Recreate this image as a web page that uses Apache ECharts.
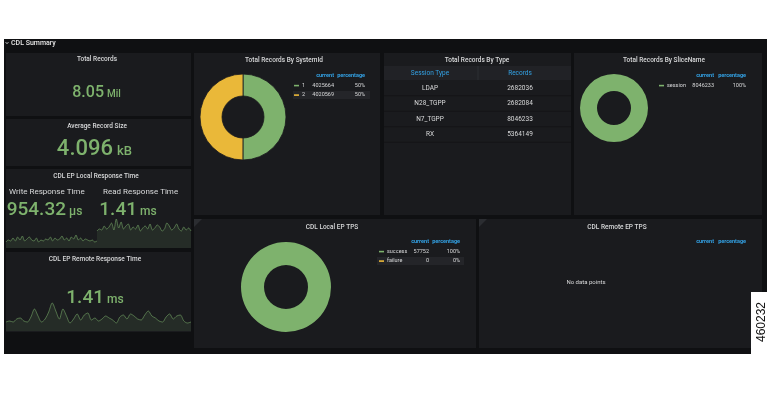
<!DOCTYPE html>
<html><head><meta charset="utf-8">
<script src="https://cdn.jsdelivr.net/npm/echarts@6/dist/echarts.min.js"></script>
<style>html,body{margin:0;padding:0;background:#fff}#c{width:780px;height:397px}</style>
</head><body><div id="c"></div>
<script>
// ---- data ----
const statTotalRecords = ['8.05', 'Mil'];
const statAvgRecordSize = ['4.096', 'kB'];
const statWriteResponse = ['954.32', 'μs'];
const statReadResponse = ['1.41', 'ms'];
const statRemoteResponse = ['1.41', 'ms'];
const systemIds = ['1', '2'];
const systemIdRecords = [4025664, 4020569];
const sessionTypes = ['LDAP', 'N28_TGPP', 'N7_TGPP', 'RX'];
const sessionRecords = [2682036, 2682084, 8046233, 5364149];
const sliceNames = ['session'];
const sliceRecords = [8046233];
const tpsNames = ['success', 'failure'];
const tpsValues = [57752, 0];
const writeSpark = [6,8,7,10,7,11,8,12,7,9,11,8,7,10,6,8,7,9,8,11,7,10,8,9,12,8,10,7,11,9,13,8,10,7,9,8,7,8,6,7];
const readSpark = [17,19,18,22,19,21,25,18,29,20,26,19,22,24,18,21,19,23,17,20,22,19,24,18,20,23,21,17,19,25,22,18,20,24,19,17,21,18,20,17];
const remoteSpark = [9,10,9,12,13,10,9,14,22,15,9,12,19,28,20,12,22,15,8,12,17,11,16,18,11,13,10,12,15,13,11,8,14,16,12,17,15,12,11,16,20,15,13,10,9,14,17,12,15,16,10,8,9];

// ---- styling ----
const GREEN = '#7EB26D', YELLOW = '#EAB839', BLUE = '#33A2E5';
const TXT = '#d8d9da', PANEL = '#1a1b1e', BG = '#0f1012';
const FONT = 'Roboto';
const g = [];
function rect(x, y, w, h, fill, z) { g.push({type:'rect', silent:true, z: z||0, shape:{x, y, width:w, height:h}, style:{fill}}); }
function text(t, x, y, size, fill, align, weight) {
  g.push({type:'text', silent:true, z:5, style:{text:t, x, y, fill, font:(weight||'normal')+' '+size+'px '+FONT, align: align||'center', verticalAlign:'middle'}});
}
function statValue(v, rightX, y, size, usize) {
  text(v[0], rightX, y, size, GREEN, 'right', '500');
  text(v[1], rightX + Math.round(size*0.18), y + (size - usize)*0.35, usize, GREEN, 'left', '500');
}
function pct(vals, i) { const s = vals.reduce((a,b)=>a+b,0); return s ? Math.round(vals[i]/s*100)+'%' : '0%'; }
function legend(names, vals, colors, sx, curR, pctR, y0, rowH, hlX0, hlX1) {
  text('current', curR, y0, 5.5, BLUE, 'right', 'bold');
  text('percentage', pctR, y0, 5.5, BLUE, 'right', 'bold');
  names.forEach((n, i) => {
    const y = y0 + rowH*(i+1);
    if (i % 2 === 1) rect(hlX0, y - 4, hlX1 - hlX0, 8, '#242529', 1);
    rect(sx, y - 0.7, 5, 1.6, colors[i], 2);
    text(n, sx + 8, y, 5.5, TXT, 'left');
    text(String(vals[i]), curR, y, 5.5, TXT, 'right');
    text(pct(vals, i), pctR, y, 5.5, TXT, 'right');
  });
}
function corner(x, y) {
  g.push({type:'polygon', silent:true, z:1, shape:{points:[[x,y],[x+8,y],[x,y+8]]}, style:{fill:'#2b2d31'}});
}

// outer dashboard background
rect(4, 39, 763, 315, BG);
// row header
g.push({type:'polyline', silent:true, z:2, shape:{points:[[5.5,42],[7,43.8],[8.5,42]]}, style:{stroke:'#cfd0d1', lineWidth:0.8, fill:null}});
text('CDL Summary', 11, 43.5, 7, '#e6e6e6', 'left', '500');
// panels
rect(6, 53, 185, 63, PANEL);
rect(6, 119, 185, 47, PANEL);
rect(6, 169, 185, 79, PANEL);
rect(6, 252, 185, 80, PANEL);
rect(194, 53, 186, 162, PANEL);
rect(384, 53, 187, 162, PANEL);
rect(574, 53, 188, 162, PANEL);
rect(194, 219, 282, 129, PANEL);
rect(479, 219, 283, 129, PANEL);
corner(194, 219); corner(479, 219);

// stat panels
text('Total Records', 97, 59, 6.5, TXT, 'center', '500');
statValue(statTotalRecords, 104, 92.5, 16, 10);
text('Average Record Size', 97, 126, 6.5, TXT, 'center', '500');
statValue(statAvgRecordSize, 113, 149, 22, 13);
text('CDL EP Local Response Time', 96, 176, 6.5, TXT, 'center', '500');
text('Write Response Time', 9, 192, 8, TXT, 'left');
text('Read Response Time', 103, 192, 8, TXT, 'left');
statValue(statWriteResponse, 66, 210, 19, 12);
statValue(statReadResponse, 137, 210, 19, 12);
text('CDL EP Remote Response Time', 95, 259, 6.5, TXT, 'center', '500');
statValue(statRemoteResponse, 104, 298, 19, 12);

// titles
text('Total Records By SystemId', 284, 60, 6.5, TXT, 'center', '500');
text('Total Records By Type', 477, 60, 6.5, TXT, 'center', '500');
text('Total Records By SliceName', 664, 60, 6.5, TXT, 'center', '500');
text('CDL Local EP TPS', 332, 227, 6.5, TXT, 'center', '500');
text('CDL Remote EP TPS', 617, 227, 6.5, TXT, 'center', '500');

// table
rect(384, 66, 187, 14, '#212226', 1);
g.push({type:'line', silent:true, z:2, shape:{x1:478, y1:66, x2:478, y2:80}, style:{stroke:'#2c2e33', lineWidth:1}});
text('Session Type', 430, 73, 6.5, BLUE, 'center');
text('Records', 520, 73, 6.5, BLUE, 'center');
sessionTypes.forEach((t, i) => {
  const y = 88 + i*15.5;
  text(t, 430, y, 6.5, TXT, 'center');
  text(String(sessionRecords[i]), 520, y, 6.5, TXT, 'center');
  g.push({type:'line', silent:true, z:2, shape:{x1:384, y1:y+7.75, x2:571, y2:y+7.75}, style:{stroke:'#141517', lineWidth:1}});
});

// legends
legend(systemIds, systemIdRecords, [GREEN, YELLOW], 294, 334, 365, 76, 9.5, 293, 370);
legend(sliceNames, sliceRecords, [GREEN], 659, 714, 746, 76, 9.5, 655, 750);
legend(tpsNames, tpsValues, [GREEN, YELLOW], 379, 429, 460, 242, 9.5, 377, 464);
text('current', 714, 242, 5.5, BLUE, 'right', 'bold');
text('percentage', 746, 242, 5.5, BLUE, 'right', 'bold');
text('No data points', 586, 282, 6, TXT, 'center');

// figure id
rect(751, 292, 29, 62, '#ffffff', 3);
g.push({type:'text', silent:true, z:6, rotation: Math.PI/2, x:762, y:322, style:{text:'460232', x:0, y:0, fill:'#111', font:'12px "Liberation Sans"', align:'center', verticalAlign:'middle'}});

// ---- series ----
function pie(names, vals, colors, center, radius, bw) {
  return {type:'pie', center, radius, startAngle:90, clockwise:true, silent:true, label:{show:false}, labelLine:{show:false},
    stillShowZeroSum:false, animation:false,
    itemStyle:{borderColor:PANEL, borderWidth:bw},
    data: names.map((n,i)=>({name:n, value:vals[i], itemStyle:{color:colors[i]}}))};
}
function spark(idx, data) {
  return {type:'line', xAxisIndex:idx, yAxisIndex:idx, data, symbol:'none', smooth:0.3, silent:true, animation:false,
    lineStyle:{color:'rgba(126,178,109,0.55)', width:1}, areaStyle:{color:'rgba(126,178,109,0.17)'}};
}
const grids = [
  {left:6, width:91, top:218, height:30},
  {left:97, width:94, top:218, height:30},
  {left:6, width:185, top:301, height:30}
];
const sparks = [writeSpark, readSpark, remoteSpark];
const option = {
  backgroundColor:'#ffffff',
  animation:false,
  grid: grids,
  xAxis: grids.map((_, i)=>({gridIndex:i, type:'category', show:false, boundaryGap:false, data: sparks[i].map((_, k)=>k)})),
  yAxis: grids.map((_, i)=>({gridIndex:i, type:'value', show:false, min:0, max:30})),
  graphic: g,
  series: [
    pie(systemIds, systemIdRecords, [GREEN, YELLOW], [243, 117], [21, 43], 0.8),
    pie(sliceNames, sliceRecords, [GREEN], [614, 108], [17, 34], 0),
    pie(tpsNames, tpsValues, [GREEN, YELLOW], [286, 287], [22, 45], 0),
    spark(0, writeSpark), spark(1, readSpark), spark(2, remoteSpark)
  ]
};
const chart = echarts.init(document.getElementById('c'), null, {renderer:'canvas'});
chart.setOption(option);
</script></body></html>
